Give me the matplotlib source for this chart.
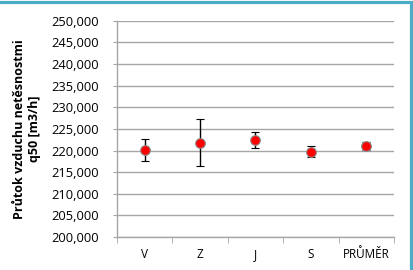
import numpy as np
import matplotlib.pyplot as plt
from matplotlib.patches import Rectangle
from matplotlib import ticker as tick

# hodnoty
strany = ["V", "Z", "J", "S", "PRŮMĚR"]
prutok = [220100, 221800, 222500, 219750, 221050]
odchylka = [2500, 5400, 1800, 1300, 850]

plt.rcParams['font.family'] = ['Open Sans', 'DejaVu Sans']

fig = plt.figure(figsize=(4.13, 2.70), dpi=100)
ax = fig.add_axes([0.283, 0.122, 0.671, 0.801])

x = np.arange(len(strany))
ax.errorbar(x, prutok, yerr=odchylka, fmt='o', color='#FF0000', markersize=7,
            markeredgecolor='#8C8C8C', markeredgewidth=0.8,
            ecolor='black', elinewidth=1, capsize=3, capthick=1, zorder=3)

ax.set_xlim(-0.5, len(strany) - 0.5)
ax.set_ylim(200000, 250000)
ax.yaxis.set_major_locator(tick.MultipleLocator(5000))
ax.yaxis.set_major_formatter(tick.StrMethodFormatter('{x:,.0f}'))
ax.set_xticks(x)
ax.set_xticklabels(strany)
ax.xaxis.set_minor_locator(tick.FixedLocator(np.arange(-0.5, len(strany), 1)))

ax.grid(axis='y', color='#A6A6A6', linewidth=1)
ax.set_axisbelow(True)
for s in ['top', 'right']:
    ax.spines[s].set_visible(False)
for s in ['left', 'bottom']:
    ax.spines[s].set_color('#A6A6A6')
    ax.spines[s].set_linewidth(1)

ax.tick_params(axis='y', labelsize=9.3, length=3, color='#A6A6A6', pad=10)
ax.tick_params(axis='x', which='major', length=0, labelsize=8.5, pad=8)
ax.tick_params(axis='x', which='minor', length=4, color='#A6A6A6')

ax.set_ylabel("Průtok vzduchu netěsnostmi\nq50 [m3/h]", fontsize=9, fontweight='bold',
              linespacing=1.2, labelpad=7)

# ramecek grafu
fig.patches.append(Rectangle((-0.05, -0.05), 1.044, 1.0426, transform=fig.transFigure,
                             fill=False, edgecolor='#4BACC6', linewidth=2.3))

fig.savefig("out.png", dpi=100)
